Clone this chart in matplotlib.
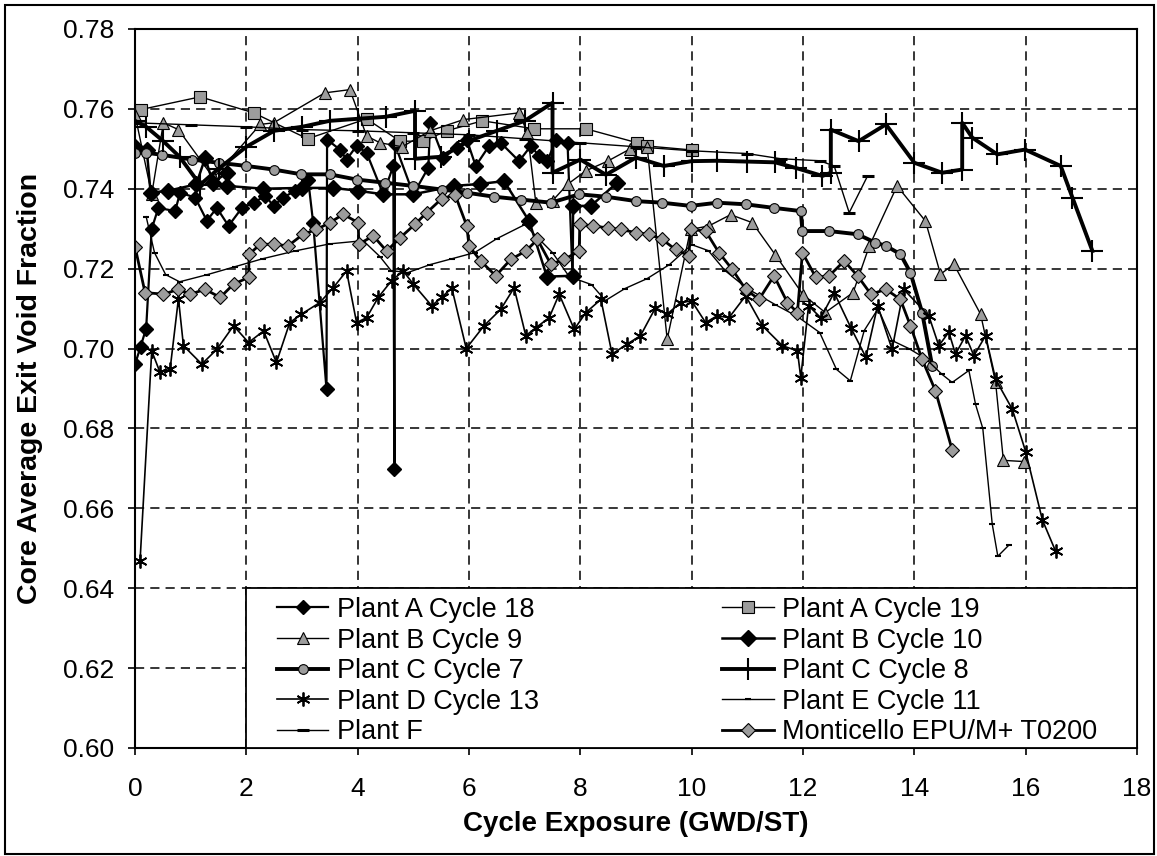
import matplotlib
matplotlib.use("Agg")
import matplotlib.pyplot as plt
from matplotlib.patches import Rectangle

plt.rcParams["font.family"] = ["Liberation Sans", "DejaVu Sans"]

# --- Data (x: GWD/ST, y: void fraction) ---
a18_x = [0.00, 0.10, 0.20, 0.30, 0.42, 0.72, 0.81, 1.08, 1.29, 1.47,
         1.68, 1.92, 2.13, 2.34, 2.49, 2.66, 2.87, 3.11, 3.20, 3.44,
         3.45, 3.68, 3.80, 3.98, 4.16, 4.46, 4.64, 4.66, 4.67, 5.00,
         5.27, 5.30, 5.54, 5.78, 5.96, 6.12, 6.36, 6.57, 6.90, 7.11,
         7.26, 7.41, 7.56, 7.77, 7.86]
a18_y = [.6960, .7005, .7050, .7300, .7352, .7344, .7390, .7378, .7320, .7352,
         .7307, .7352, .7365, .7382, .7357, .7378, .7394, .7423, .7315, .6898,
         .7523, .7498, .7473, .7507, .7490, .7386, .7457, .6698, .7511, .7386,
         .7453, .7565, .7478, .7502, .7523, .7457, .7507, .7515, .7469, .7507,
         .7482, .7469, .7523, .7515, .7182]

a19_x = [0.10, 1.17, 2.13, 3.10, 4.16, 4.76, 5.18, 5.60, 6.24, 7.17,
         8.10, 9.02, 9.20, 10.00]
a19_y = [.7598, .7630, .7590, .7525, .7575, .7519, .7519, .7545, .7570, .7550,
         .7550, .7515, .7507, .7497]

b9_x = [0.00, 0.30, 0.51, 0.78, 1.41, 2.25, 2.49, 3.41, 3.86, 4.16,
        4.40, 4.80, 5.30, 5.90, 6.90, 7.05, 7.20, 7.50, 7.77, 8.10,
        8.49, 8.90, 9.20, 9.56, 9.98, 10.31, 10.70, 11.09, 11.50, 12.00,
        12.40, 12.90, 13.19, 13.69, 14.20, 14.47, 14.71, 15.19, 15.46, 15.60,
        15.97]
b9_y = [.7585, .7386, .7565, .7548, .7427, .7561, .7565, .7640, .7648, .7532,
        .7515, .7505, .7545, .7573, .7590, .7540, .7365, .7370, .7411, .7445,
        .7469, .7500, .7505, .7023, .7298, .7307, .7335, .7315, .7235, .7135,
        .7090, .7140, .7256, .7407, .7319, .7186, .7211, .7086, .6915, .6720,
        .6717]

b10_x = [0.00, 0.21, 0.28, 0.60, 1.10, 1.26, 1.40, 1.65, 1.66, 2.30,
         3.00, 3.56, 4.00, 4.46, 5.00, 5.73, 6.20, 6.63, 7.08, 7.40,
         7.86, 7.87, 8.19, 8.66]
b10_y = [.7505, .7498, .7390, .7395, .7411, .7477, .7415, .7440, .7407, .7400,
         .7402, .7402, .7395, .7386, .7386, .7407, .7412, .7419, .7319, .7180,
         .7182, .7357, .7357, .7415]

c7_x = [0.00, 0.20, 0.48, 1.02, 1.50, 2.00, 2.49, 2.99, 3.50, 3.98,
        4.49, 5.00, 5.51, 5.96, 6.45, 6.93, 7.47, 7.98, 8.46, 9.00,
        9.47, 9.98, 10.46, 10.97, 11.48, 11.96, 11.99, 12.47, 12.98, 13.30,
        13.49, 13.75, 13.93, 14.14, 14.32]
c7_y = [.7490, .7490, .7485, .7473, .7465, .7457, .7448, .7436, .7436, .7423,
        .7415, .7407, .7398, .7390, .7380, .7373, .7365, .7386, .7380, .7369,
        .7365, .7357, .7365, .7361, .7352, .7344, .7294, .7294, .7286, .7265,
        .7257, .7236, .7190, .7090, .6957]

c8_x = [0.00, 0.20, 0.50, 0.80, 1.17, 1.50, 2.00, 2.50, 3.00, 3.50,
        4.00, 4.50, 5.03, 5.03, 5.50, 6.00, 6.50, 7.00, 7.50, 7.50,
        8.00, 8.46, 9.00, 9.50, 10.00, 10.45, 11.00, 11.50, 11.87, 12.35,
        12.50, 12.50, 13.00, 13.49, 14.00, 14.50, 14.86, 14.86, 15.04, 15.49,
        15.99, 16.63, 16.84, 17.20]
c8_y = [.7570, .7555, .7520, .7480, .7410, .7450, .7505, .7545, .7555, .7570,
        .7575, .7580, .7595, .7475, .7480, .7520, .7545, .7570, .7615, .7440,
        .7473, .7435, .7478, .7457, .7469, .7470, .7468, .7466, .7452, .7432,
        .7440, .7548, .7519, .7561, .7465, .7440, .7448, .7565, .7528, .7486,
        .7498, .7457, .7378, .7244]

d13_x = [0.09, 0.30, 0.45, 0.63, 0.78, 0.87, 1.20, 1.47, 1.77, 2.04,
         2.31, 2.54, 2.78, 2.99, 3.32, 3.56, 3.80, 3.98, 4.16, 4.37,
         4.61, 4.82, 5.00, 5.33, 5.51, 5.69, 5.95, 6.27, 6.57, 6.81,
         7.02, 7.20, 7.44, 7.62, 7.89, 8.10, 8.37, 8.57, 8.84, 9.08,
         9.35, 9.56, 9.80, 10.00, 10.25, 10.46, 10.67, 10.97, 11.27, 11.63,
         11.90, 11.96, 12.10, 12.32, 12.56, 12.86, 13.13, 13.34, 13.60, 13.81,
         14.26, 14.44, 14.62, 14.74, 14.92, 15.07, 15.28, 15.46, 15.76, 16.00,
         16.30, 16.54]
d13_y = [.6467, .6994, .6940, .6948, .7125, .7007, .6961, .6998, .7057, .7015,
         .7044, .6965, .7065, .7086, .7115, .7152, .7194, .7065, .7077, .7128,
         .7170, .7194, .7161, .7107, .7128, .7152, .7000, .7057, .7098, .7152,
         .7032, .7052, .7077, .7136, .7048, .7090, .7123, .6986, .7011, .7032,
         .7102, .7086, .7115, .7119, .7065, .7082, .7077, .7132, .7057, .7007,
         .6994, .6927, .7107, .7077, .7140, .7052, .6978, .7107, .6998, .7148,
         .7082, .7007, .7041, .6986, .7032, .6982, .7032, .6923, .6848, .6742,
         .6571, .6492]

e11_x = [0.20, 0.35, 0.55, 0.80, 1.30, 1.80, 2.30, 2.90, 3.50, 4.10,
         4.40, 4.60, 4.90, 5.30, 5.70, 6.10, 6.50, 7.00, 7.50, 7.80,
         8.20, 8.45, 8.80, 9.20, 9.60, 10.00, 10.30, 10.60, 11.00, 11.50,
         11.90, 12.30, 12.60, 12.85, 13.10, 13.35, 13.60, 13.90, 14.20, 14.50,
         14.68, 14.98, 15.10, 15.23, 15.40, 15.50, 15.70]
e11_y = [.7330, .7240, .7185, .7167, .7185, .7205, .7225, .7245, .7262, .7270,
         .7230, .7195, .7190, .7210, .7225, .7240, .7275, .7310, .7240, .7180,
         .7160, .7120, .7150, .7175, .7210, .7260, .7245, .7195, .7150, .7110,
         .7080, .7040, .6948, .6919, .7045, .7100, .7020, .7000, .6975, .6935,
         .6915, .6945, .6860, .6800, .6560, .6480, .6508]

f_x = [0.00, 1.00, 2.00, 3.00, 4.00, 5.00, 6.00, 7.00, 8.00, 9.00,
       10.00, 11.00, 11.60, 12.30, 12.56, 12.83, 13.16]
f_y = [.7565, .7560, .7555, .7548, .7545, .7540, .7535, .7525, .7515, .7505,
       .7495, .7488, .7475, .7470, .7457, .7340, .7432]

mont_x = [0.00, 0.18, 0.51, 0.78, 0.99, 1.26, 1.53, 1.77, 2.04, 2.05,
          2.25, 2.49, 2.75, 3.02, 3.26, 3.50, 3.74, 4.01, 4.02, 4.28,
          4.52, 4.76, 5.03, 5.24, 5.51, 5.75, 5.96, 6.00, 6.21, 6.48,
          6.75, 7.02, 7.23, 7.47, 7.71, 7.98, 7.99, 8.22, 8.49, 8.73,
          9.00, 9.23, 9.47, 9.71, 9.95, 9.98, 10.25, 10.49, 10.73, 10.97,
          11.21, 11.48, 11.72, 11.90, 11.99, 12.23, 12.47, 12.74, 12.98, 13.22,
          13.49, 13.75, 13.93, 14.14, 14.38, 14.68]
mont_y = [.7255, .7140, .7136, .7148, .7136, .7148, .7128, .7161, .7178, .7236,
          .7261, .7261, .7257, .7286, .7298, .7315, .7336, .7315, .7261, .7282,
          .7244, .7277, .7311, .7340, .7375, .7385, .7307, .7257, .7219, .7182,
          .7223, .7244, .7273, .7211, .7223, .7244, .7311, .7307, .7302, .7298,
          .7290, .7286, .7273, .7248, .7232, .7298, .7294, .7240, .7198, .7148,
          .7123, .7182, .7115, .7090, .7240, .7178, .7182, .7219, .7182, .7136,
          .7148, .7123, .7057, .6973, .6894, .6746]

x_ticks = [0, 2, 4, 6, 8, 10, 12, 14, 16, 18]
y_ticks = [0.60, 0.62, 0.64, 0.66, 0.68, 0.70, 0.72, 0.74, 0.76, 0.78]

GRAY = "#9c9c9c"


def main():
    fig = plt.figure(figsize=(11.57, 8.56), dpi=100)
    ax = fig.add_axes([0.1167, 0.1262, 0.866, 0.840])

    # --- Series ---
    h = {}
    h["a18"], = ax.plot(a18_x, a18_y, color="black", lw=1.6, marker="D", ms=7,
                        mfc="black", mec="black", label="Plant A Cycle 18")
    h["a19"], = ax.plot(a19_x, a19_y, color="black", lw=1.0, marker="s", ms=8,
                        mfc=GRAY, mec="black", mew=0.8, label="Plant A Cycle 19")
    h["b9"], = ax.plot(b9_x, b9_y, color="black", lw=1.0, marker="^", ms=8.5,
                       mfc=GRAY, mec="black", mew=0.8, label="Plant B Cycle 9")
    h["b10"], = ax.plot(b10_x, b10_y, color="black", lw=1.8, marker="D", ms=8.5,
                        mfc="black", mec="black", label="Plant B Cycle 10")
    h["c7"], = ax.plot(c7_x, c7_y, color="black", lw=2.8, marker="o", ms=7,
                       mfc=GRAY, mec="black", mew=0.8, label="Plant C Cycle 7")
    h["c8"], = ax.plot(c8_x, c8_y, color="black", lw=2.8, marker="+", ms=16,
                       mew=1.5, label="Plant C Cycle 8")
    h["d13"], = ax.plot(d13_x, d13_y, color="black", lw=1.2, marker=(6, 2, 0),
                        ms=10, mew=1.3, label="Plant D Cycle 13")
    h["e11"], = ax.plot(e11_x, e11_y, color="black", lw=1.0, marker="_", ms=5,
                        mew=1.5, label="Plant E Cycle 11")
    h["f"], = ax.plot(f_x, f_y, color="black", lw=1.0, marker="_", ms=8,
                      mew=2.2, label="Plant F")
    h["mont"], = ax.plot(mont_x, mont_y, color="black", lw=2.0, marker="D", ms=7,
                         mfc=GRAY, mec="black", mew=0.8,
                         label="Monticello EPU/M+ T0200")

    # --- Axes ---
    ax.set_xlim(0, 18)
    ax.set_ylim(0.60, 0.78)
    ax.set_xticks(x_ticks)
    ax.set_yticks(y_ticks)
    ax.set_xticklabels([str(t) for t in x_ticks])
    ax.set_yticklabels([f"{t:.2f}" for t in y_ticks])
    ax.tick_params(axis="both", direction="out", length=5, width=1.2,
                   labelsize=19, colors="black")
    ax.tick_params(axis="x", pad=16)
    ax.tick_params(axis="y", pad=10)
    ax.grid(True, color="black", ls=(0, (6, 4)), lw=1.1)
    ax.set_axisbelow(True)
    for s in ax.spines.values():
        s.set_linewidth(1.5)
        s.set_color("black")

    ax.set_xlabel("Cycle Exposure (GWD/ST)", fontsize=20, fontweight="bold")
    ax.set_ylabel("Core Average Exit Void Fraction", fontsize=20.5,
                  fontweight="bold")
    ax.xaxis.set_label_coords(0.5, -0.088)
    ax.yaxis.set_label_coords(-0.092, 0.5)

    # --- Legend: white boxed panel over x 2..18, y 0.60..0.64 ---
    box = Rectangle((2, 0.60), 16, 0.04, transform=ax.transData,
                    facecolor="white", edgecolor="black", lw=1.3, zorder=4)
    ax.add_patch(box)

    cols = [["a18", "b9", "c7", "d13", "f"],
            ["a19", "b10", "c8", "e11", "mont"]]
    anchors = [0.1417, 0.586]
    legs = []
    for keys, x0 in zip(cols, anchors):
        leg = ax.legend([h[k] for k in keys], [h[k].get_label() for k in keys],
                        loc="upper left", bbox_to_anchor=(x0, 0.210),
                        fontsize=19.5, frameon=False, borderaxespad=0,
                        borderpad=0, labelspacing=0.17, handlelength=1.9,
                        handletextpad=0.3)
        leg.set_zorder(6)
        legs.append(leg)
    ax.add_artist(legs[0])

    # outer chart border
    fig.patches.append(Rectangle((0.0043, 0.0023), 0.9935, 0.9917,
                                 transform=fig.transFigure, fill=False,
                                 lw=1.5, ec="black"))

    fig.savefig("out.png", dpi=100)
    plt.close(fig)


if __name__ == "__main__":
    main()
